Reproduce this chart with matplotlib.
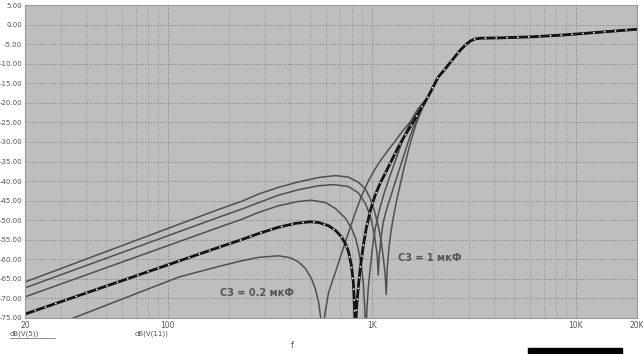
import matplotlib
matplotlib.use("Agg")
import matplotlib.pyplot as plt
from matplotlib.patches import Rectangle
from matplotlib.lines import Line2D

# ---------------- data ----------------
# shared high-frequency tail (Hz, dB)
tail_f = [1890, 2000, 2116, 2280, 2448, 2600, 2738, 2900, 3031, 3200, 3400, 4294, 6292, 9110, 12760, 20000]
tail_db = [-18.5, -16.0, -13.5, -11.5, -9.5, -7.8, -6.4, -5.1, -4.3, -3.7, -3.5, -3.4, -3.1, -2.6, -2.0, -1.2]

# gray curves (different C3)
a_f = [20, 179, 230, 280, 350, 439, 550, 665, 770, 861, 932, 986, 1031, 1078, 1115, 1141, 1166, 1180,
       1194, 1220, 1248, 1276, 1320, 1380, 1444, 1544, 1650, 1788]
a_db = [-65.8, -47.2, -45.2, -43.3, -41.6, -40.2, -39.1, -38.6, -39.0, -40.3, -42.0, -44.5, -47.5, -51.5, -55.5, -59.5, -64.0, -69.0,
        -62.0, -56.5, -52.5, -49.5, -45.5, -41.0, -36.5, -30.5, -25.5, -21.0]

b_f = [20, 179, 230, 280, 350, 439, 550, 650, 770, 861, 932, 986, 1031, 1066, 1078,
       1091, 1115, 1141, 1180, 1248, 1320, 1428, 1544, 1728]
b_db = [-67.3, -49.2, -47.2, -45.5, -43.6, -42.2, -41.2, -40.9, -41.4, -43.0, -45.7, -49.0, -53.5, -59.0, -64.0,
        -59.0, -54.0, -50.5, -47.5, -43.5, -39.5, -34.0, -28.5, -22.0]

c_f = [20, 179, 230, 280, 350, 439, 508, 595, 665, 744, 796, 833, 861, 890, 911, 925, 937,
       950, 964, 986, 1010, 1043, 1091, 1154, 1234, 1335, 1444, 1580, 1690]
c_db = [-69.6, -51.8, -49.8, -48.0, -46.3, -45.2, -44.9, -45.5, -47.0, -49.5, -52.0, -54.5, -57.5, -61.5, -66.0, -72.0, -80.0,
        -72.0, -67.0, -62.0, -57.0, -52.0, -47.5, -43.0, -38.5, -33.5, -28.5, -24.0, -21.5]

e_f = [20, 114, 179, 230, 280, 350, 400, 439, 475, 508, 530, 550, 565, 575,
       590, 615, 640, 665, 700, 744, 790, 833, 890, 964, 1043, 1115, 1210, 1305, 1420, 1562, 1720]
e_db = [-79.8, -64.5, -61.8, -60.4, -59.5, -59.1, -59.6, -60.7, -62.4, -65.0, -67.5, -71.0, -75.5, -80.0,
        -74.0, -68.6, -65.8, -63.3, -59.7, -55.5, -51.5, -48.0, -44.0, -40.0, -36.8, -34.5, -32.0, -29.8, -27.2, -24.6, -21.8]

# highlighted (dashed) curve
d_f = [20, 179, 230, 280, 350, 425, 500, 550, 615, 665, 710, 744, 770, 796, 814, 825, 833,
       845, 861, 881, 911, 942, 986, 1043, 1103, 1180, 1260, 1350, 1450, 1562, 1700]
d_db = [-74.0, -56.9, -55.0, -53.4, -51.8, -50.8, -50.4, -50.6, -51.4, -52.6, -54.2, -56.0, -58.0, -61.5, -66.0, -72.0, -80.0,
        -72.0, -67.0, -62.0, -56.5, -52.0, -47.5, -43.5, -40.5, -37.5, -34.5, -31.4, -28.5, -25.8, -22.5]

y_ticks = [5, 0, -5, -10, -15, -20, -25, -30, -35, -40, -45, -50, -55, -60, -65, -70, -75]
x_ticks = [20, 100, 1000, 10000, 20000]
x_tick_labels = ["20", "100", "1K", "10K", "20K"]

# ---------------- figure ----------------
W, H = 643, 354
fig = plt.figure(figsize=(W / 100, H / 100), dpi=100, facecolor="white")

def fx(px):
    return px / W

def fy(py):
    return 1 - py / H

ax = fig.add_axes([fx(25), fy(318), fx(637) - fx(25), fy(5) - fy(318)])
ax.set_facecolor("#bebebe")
ax.set_xscale("log")
ax.set_xlim(20, 20000)
ax.set_ylim(-75, 5)

ax.set_yticks(y_ticks)
ax.set_yticklabels([f"{v:.2f}" for v in y_ticks], fontsize=5, color="#555555")
ax.set_xticks(x_ticks)
ax.set_xticklabels(x_tick_labels, fontsize=5.5, color="#555555")
ax.tick_params(axis="both", length=0, pad=2)
ax.minorticks_on()
ax.tick_params(which="minor", length=0, labelbottom=False)
ax.yaxis.set_minor_locator(matplotlib.ticker.NullLocator())

ax.grid(True, which="major", color="#808080", linestyle=(0, (1.5, 2)), linewidth=0.6)
ax.grid(True, which="minor", axis="x", color="#8c8c8c", linestyle=(0, (1.5, 2)), linewidth=0.5)
ax.set_axisbelow(True)
for s in ax.spines.values():
    s.set_color("#9a9a9a")
    s.set_linewidth(0.8)

gray = "#4f4f4f"
for f, db in [(a_f, a_db), (b_f, b_db), (c_f, c_db), (e_f, e_db)]:
    ax.plot(f + tail_f, db + tail_db, color=gray, linewidth=1.1, solid_joinstyle="round")

ax.plot(d_f + tail_f, d_db + tail_db, color="#141414", linewidth=2.0, solid_joinstyle="round")
ax.plot(d_f + tail_f, d_db + tail_db, color="white", linewidth=1.3,
        linestyle=(0, (0.01, 6.0)), dash_capstyle="round")

ax.text(274, -68.6, "C3 = 0.2 мкФ", fontsize=7, fontweight="bold", color="#555555",
        ha="center", va="center")
ax.text(1934, -59.7, "C3 = 1 мкФ", fontsize=7, fontweight="bold", color="#555555",
        ha="center", va="center")

# texts below the plot
fig.text(fx(10), fy(334), "dB(V(5))", fontsize=5, color="#555555", ha="left", va="center")
fig.add_artist(Line2D([fx(10), fx(55)], [fy(337.5), fy(337.5)], color="#666666", linewidth=0.5))
fig.text(fx(135), fy(334), "dB(V(11))", fontsize=5, color="#555555", ha="left", va="center")
fig.text(fx(292), fy(345), "f", fontsize=6, color="#555555", ha="center", va="center")

# cut-off figure caption box at the bottom edge
fig.add_artist(Rectangle((fx(528), 0), fx(622) - fx(528), fy(348), color="black",
                         transform=fig.transFigure))

fig.savefig("out.png", dpi=100, facecolor="white")
